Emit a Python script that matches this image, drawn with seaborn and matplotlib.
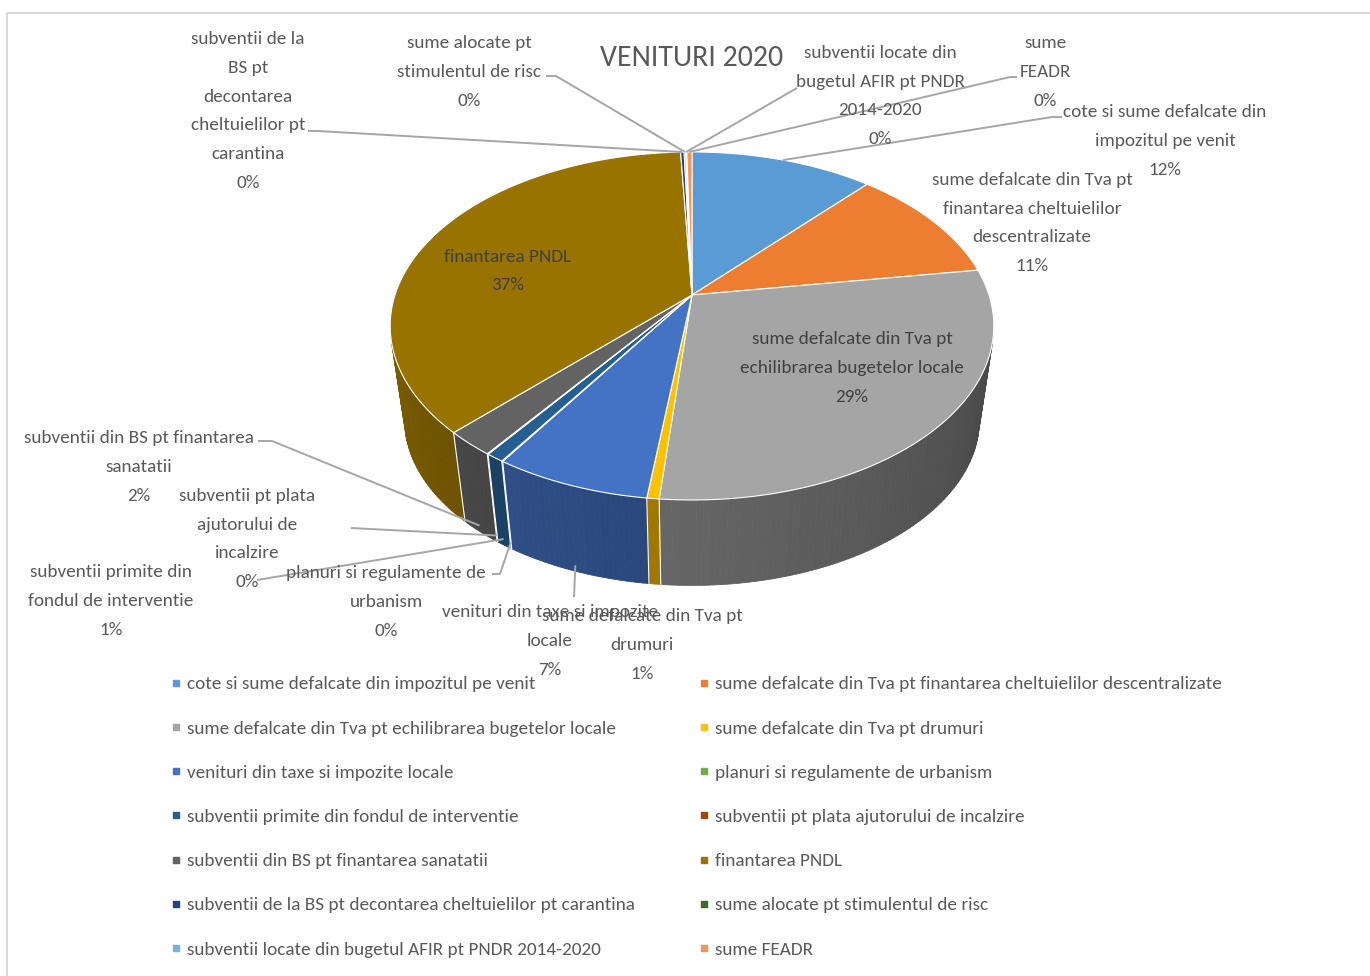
import numpy as np
import matplotlib
matplotlib.use("Agg")
import matplotlib.pyplot as plt
import seaborn as sns
from matplotlib import font_manager
from matplotlib.patches import Polygon, Rectangle
from matplotlib.collections import PolyCollection
from matplotlib.lines import Line2D

# Data (shares of total revenue, 2020)
categories = [
    "cote si sume defalcate din impozitul pe venit",
    "sume defalcate din Tva pt finantarea cheltuielilor descentralizate",
    "sume defalcate din Tva pt echilibrarea bugetelor locale",
    "sume defalcate din Tva pt drumuri",
    "venituri din taxe si impozite locale",
    "planuri si regulamente de urbanism",
    "subventii primite din fondul de interventie",
    "subventii pt plata ajutorului de incalzire",
    "subventii din BS pt finantarea sanatatii",
    "finantarea PNDL",
    "subventii de la BS pt decontarea cheltuielilor pt carantina",
    "sume alocate pt stimulentul de risc",
    "subventii locate din bugetul AFIR pt PNDR 2014-2020",
    "sume FEADR",
]
values = [11.64, 10.94, 28.87, 0.55, 7.12, 0.05, 0.83, 0.05, 2.31, 36.92, 0.22, 0.10, 0.07, 0.33]

# wrapped data-label text, as Excel broke the lines
label_texts = [
    "cote si sume defalcate din\nimpozitul pe venit",
    "sume defalcate din Tva pt\nfinantarea cheltuielilor\ndescentralizate",
    "sume defalcate din Tva pt\nechilibrarea bugetelor locale",
    "sume defalcate din Tva pt\ndrumuri",
    "venituri din taxe si impozite\nlocale",
    "planuri si regulamente de\nurbanism",
    "subventii primite din\nfondul de interventie",
    "subventii pt plata\najutorului de\nincalzire",
    "subventii din BS pt finantarea\nsanatatii",
    "finantarea PNDL",
    "subventii de la\nBS pt\ndecontarea\ncheltuielilor pt\ncarantina",
    "sume alocate pt\nstimulentul de risc",
    "subventii locate din\nbugetul AFIR pt PNDR\n2014-2020",
    "sume\nFEADR",
]

colors = ["#5B9BD5", "#ED7D31", "#A5A5A5", "#FFC000", "#4472C4", "#70AD47", "#255E91",
          "#9E480E", "#636363", "#997300", "#264478", "#43682B", "#7CAFDD", "#F1975A"]

# label layout (pixel coords), leader start points, and where the leader hits the pie
label_pos = [(1165, 141), (1032, 223), (852, 368), (642, 645), (550, 641), (386, 602),
             (111, 601), (247, 539), (139, 467), (508, 271), (248, 111), (469, 72),
             (880, 96), (1045, 72)]
leaders = [[(1062, 117), (1052, 117)], None, None, None, [(574, 597)],
           [(492, 574), (500, 574)], [(257, 580)], [(351, 528)],
           [(258, 441), (272, 441)], None, [(308, 131), (318, 131)],
           [(546, 76), (556, 76)], [(797, 88)], [(1017, 77), (1010, 77)]]
leader_side = ["top", None, None, None, "wall", "wall", "wall", "wall", "wall", None,
               "top", "top", "top", "top"]
inside = [False, False, True, False, False, False, False, False, False, True,
          False, False, False, False]

# 3D pie geometry (pixels)
cx, cy = 692, 295
R, B, k = 297, 168.5, 0.178
lam, yvp = 0.952, 2280


def top_pt(t):
    u, v = np.sin(t), np.cos(t)
    w = 1 + k * v
    return cx + R * u / w, cy - B * v / w


def wall_pt(t, depth=1.0):
    x, y = top_pt(t)
    s = 1 - (1 - lam) * depth
    return cx + s * (x - cx), yvp - s * (yvp - y)


sns.set_theme(style="white")
available = {f.name for f in font_manager.fontManager.ttflist}
narrow = [f for f in ["Carlito", "Calibri", "Liberation Sans Narrow", "Roboto Condensed",
                      "Open Sans Condensed", "Roboto"] if f in available]
plt.rcParams['font.family'] = narrow[:1] + ['DejaVu Sans']

fig = plt.figure(figsize=(13.7, 9.76), dpi=100)
ax = fig.add_axes([0, 0, 1, 1])
ax.set_xlim(0, 1370)
ax.set_ylim(976, 0)
ax.axis("off")

palette = sns.color_palette(colors)
vals = np.array(values)
total = vals.sum()
bounds = np.concatenate([[0], np.cumsum(vals)]) / total * 2 * np.pi

# outer walls (front-facing part only), shaded by angle
quads, qcols = [], []
for i in range(len(vals)):
    a, b = bounds[i], bounds[i + 1]
    n = max(2, int(np.degrees(b - a)) + 2)
    ts = np.linspace(a, b, n)
    for t0, t1 in zip(ts[:-1], ts[1:]):
        q = np.array([top_pt(t0), top_pt(t1), wall_pt(t1), wall_pt(t0)])
        x, y = q[:, 0], q[:, 1]
        area = 0.5 * np.sum(x * np.roll(y, -1) - np.roll(x, -1) * y)
        if area < 0:
            deg = np.degrees(0.5 * (t0 + t1))
            f = np.clip(0.42 + 0.38 * (deg - 100) / 160, 0.40, 0.82)
            quads.append(q)
            qcols.append(tuple(np.array(palette[i]) * f))
ax.add_collection(PolyCollection(quads, facecolors=qcols, edgecolors=qcols, linewidths=0.6))

# white seams between walls
for t in bounds[:-1]:
    if np.pi * 0.56 < t < np.pi * 1.44:
        p0, p1 = top_pt(t), wall_pt(t)
        ax.plot([p0[0], p1[0]], [p0[1], p1[1]], color="white", lw=0.8)

# top faces
for i in range(len(vals)):
    ts = np.linspace(bounds[i], bounds[i + 1], max(2, int(np.degrees(bounds[i + 1] - bounds[i])) + 2))
    pts = [(cx, cy)] + [top_pt(t) for t in ts]
    ax.add_patch(Polygon(pts, closed=True, facecolor=palette[i], edgecolor="white", lw=0.8))

# data labels and leader lines
pcts = np.round(vals / total * 100).astype(int)
for i, txt in enumerate(label_texts):
    s = f"{txt}\n{pcts[i]}%"
    ax.text(*label_pos[i], s, ha="center", va="center", multialignment="center",
            fontsize=13.8, linespacing=1.97, color="#404040" if inside[i] else "#595959")
    if leaders[i] is not None:
        mid = 0.5 * (bounds[i] + bounds[i + 1])
        end = top_pt(mid) if leader_side[i] == "top" else wall_pt(mid, 0.93)
        pts = leaders[i] + [end]
        ax.plot([p[0] for p in pts], [p[1] for p in pts], color="#a6a6a6", lw=1.4,
                solid_capstyle="butt")

ax.text(692, 58, "VENITURI 2020", ha="center", va="center", fontsize=21.5, color="#595959")

# legend, two columns filled row by row
handles = [Line2D([], [], marker="s", linestyle="", markersize=4.5, color=c) for c in palette]
legs = []
for col, x0 in [(0, 171), (1, 699)]:
    idx = list(range(col, len(categories), 2))
    legs.append(ax.legend([handles[j] for j in idx], [categories[j] for j in idx],
                          loc="upper left", bbox_to_anchor=(x0, 676), bbox_transform=ax.transData,
                          frameon=False, fontsize=13.8, labelcolor="#595959", handlelength=0.5,
                          handletextpad=0.35, labelspacing=1.45, borderpad=0, borderaxespad=0))
ax.add_artist(legs[0])

# chart area border
ax.add_patch(Rectangle((7, 13), 1400, 1000, fill=False, edgecolor="#d9d9d9", lw=1.5))

fig.savefig("out.png", dpi=100)
